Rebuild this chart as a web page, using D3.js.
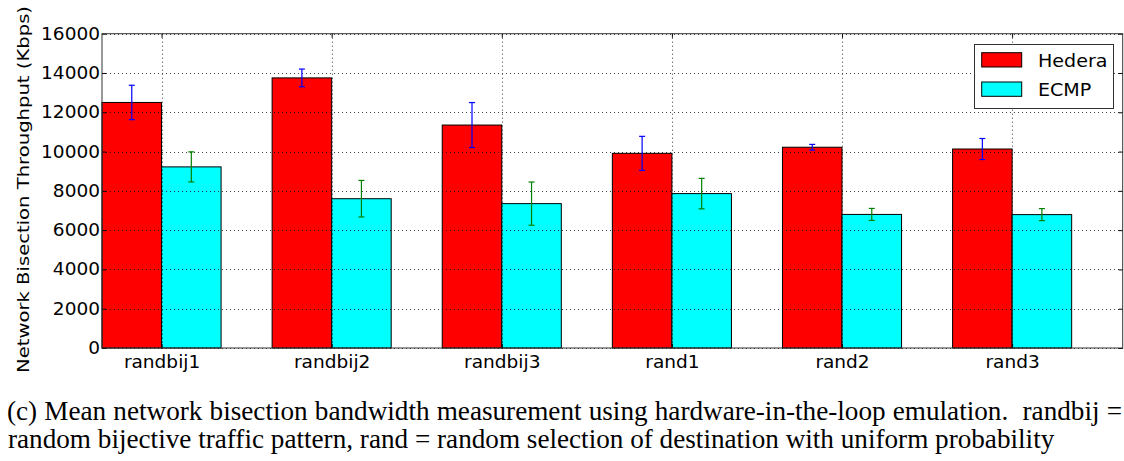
<!DOCTYPE html>
<html>
<head>
<meta charset="utf-8">
<script src="https://cdn.jsdelivr.net/npm/d3@7"></script>
<style>
  html, body { margin: 0; padding: 0; background: #fff; }
  svg { display: block; }
  text { font-family: "DejaVu Sans", sans-serif; fill: #000; }
</style>
</head>
<body>
<svg id="chart" width="1124" height="461"></svg>
<script>
const categories = ["randbij1", "randbij2", "randbij3", "rand1", "rand2", "rand3"];
const hedera    = [12500, 13750, 11350, 9910, 10220, 10130];
const hederaErr = [875, 450, 1145, 865, 145, 535];
const ecmp      = [9220, 7600, 7350, 7860, 6800, 6790];
const ecmpErr   = [765, 930, 1100, 775, 305, 305];
const yTicks    = [0, 2000, 4000, 6000, 8000, 10000, 12000, 14000, 16000];
const seriesNames = ["Hedera", "ECMP"];
const captionLines = [
  "(c) Mean network bisection bandwidth measurement using hardware-in-the-loop emulation.  randbij =",
  "random bijective traffic pattern, rand = random selection of destination with uniform probability"
];

const svg = d3.select("#chart");
const L = 102, R = 1122.7, T = 33.7, B = 348;
const barW = 0.35;
const x = d3.scaleLinear().domain([0, 6]).range([L, R]);
const y = d3.scaleLinear().domain([0, 16000]).range([B, T]);
const STRETCH = 1.09;
const SERIF = "'Liberation Serif', 'Times New Roman', Times, serif";

function stretch(sel, k) {
  sel.each(function () {
    const len = this.getComputedTextLength();
    this.setAttribute("textLength", len * k);
    this.setAttribute("lengthAdjust", "spacingAndGlyphs");
  });
}

const series = [
  { name: seriesNames[0], vals: hedera, errs: hederaErr, fill: "#ff0000", errColor: "#0000ff", off: 0 },
  { name: seriesNames[1], vals: ecmp, errs: ecmpErr, fill: "#00ffff", errColor: "#008000", off: barW }
];

// bars
series.forEach(s => {
  svg.append("g").selectAll("rect").data(s.vals).join("rect")
    .attr("x", (d, i) => x(i + s.off))
    .attr("width", (d, i) => x(i + s.off + barW) - x(i + s.off))
    .attr("y", d => y(d))
    .attr("height", d => y(0) - y(d))
    .attr("fill", s.fill)
    .attr("stroke", "#000")
    .attr("stroke-width", 1);
});

// grid (drawn over bars)
const grid = svg.append("g").attr("stroke", "#000").attr("stroke-width", 1)
  .attr("stroke-dasharray", "1,3").attr("opacity", 0.75);
grid.selectAll("line.h").data(yTicks).join("line").attr("class", "h")
  .attr("x1", L).attr("x2", R).attr("y1", d => Math.round(y(d)) + 0.5).attr("y2", d => Math.round(y(d)) + 0.5);
grid.selectAll("line.v").data(categories).join("line").attr("class", "v")
  .attr("y1", T).attr("y2", B)
  .attr("x1", (d, i) => Math.round(x(i + barW)) + 0.5).attr("x2", (d, i) => Math.round(x(i + barW)) + 0.5);

// error bars
series.forEach(s => {
  const g = svg.append("g").attr("stroke", s.errColor).attr("stroke-width", 1.2);
  s.vals.forEach((v, i) => {
    const cx = x(i + s.off + barW / 2);
    const y1 = y(v + s.errs[i]), y2 = y(v - s.errs[i]);
    g.append("line").attr("x1", cx).attr("x2", cx).attr("y1", y1).attr("y2", y2);
    g.append("line").attr("x1", cx - 3).attr("x2", cx + 3).attr("y1", y1).attr("y2", y1);
    g.append("line").attr("x1", cx - 3).attr("x2", cx + 3).attr("y1", y2).attr("y2", y2);
  });
});

// axes
const yAxis = svg.append("g").attr("transform", `translate(${L},0)`)
  .call(d3.axisLeft(y).tickValues(yTicks).tickSize(-4).tickPadding(2).tickFormat(d3.format("d")));
const yAxisR = svg.append("g").attr("transform", `translate(${R},0)`)
  .call(d3.axisRight(y).tickValues(yTicks).tickSize(-4).tickFormat(""));
const xTickPos = categories.map((c, i) => i + barW);
const xAxis = svg.append("g").attr("transform", `translate(0,${B})`)
  .call(d3.axisBottom(x).tickValues(xTickPos).tickSize(-4).tickPadding(7.5)
    .tickFormat((d, i) => categories[i]));
const xAxisT = svg.append("g").attr("transform", `translate(0,${T})`)
  .call(d3.axisTop(x).tickValues(xTickPos).tickSize(-4).tickFormat(""));
[yAxis, yAxisR, xAxis, xAxisT].forEach(a => {
  a.select(".domain").remove();
  a.selectAll(".tick line").attr("stroke", "#000");
  a.selectAll("text").attr("font-size", 17).attr("font-family", "DejaVu Sans");
});
stretch(yAxis.selectAll("text"), STRETCH);
stretch(xAxis.selectAll("text"), STRETCH);

// frame
svg.append("rect").attr("x", L).attr("y", T).attr("width", R - L).attr("height", B - T)
  .attr("fill", "none").attr("stroke", "#333").attr("stroke-width", 1);

// y title
svg.append("text")
  .attr("transform", `translate(29,${(6 + 373) / 2}) rotate(-90)`)
  .attr("text-anchor", "middle")
  .attr("font-size", 16.5)
  .attr("textLength", 367).attr("lengthAdjust", "spacingAndGlyphs")
  .text("Network Bisection Throughput (Kbps)");

// legend
const lg = svg.append("g");
lg.append("rect").attr("x", 974.5).attr("y", 44.5).attr("width", 139).attr("height", 64)
  .attr("fill", "#fff").attr("stroke", "#333").attr("stroke-width", 1);
series.forEach((s, k) => {
  const yy = 52.7 + k * 29.3;
  lg.append("rect").attr("x", 981.7).attr("y", yy).attr("width", 40).attr("height", 14.3)
    .attr("fill", s.fill).attr("stroke", "#000").attr("stroke-width", 1);
  const t = lg.append("text").attr("x", 1038).attr("y", yy + 14)
    .attr("font-size", 17.5).text(s.name);
  stretch(t, STRETCH);
});

// caption: font size fitted so that line 2 spans its width naturally
const cap = svg.append("g");
const c2 = cap.append("text").attr("x", 8).attr("y", 448)
  .style("font-family", SERIF).style("white-space", "pre")
  .attr("font-size", 24).text(captionLines[1]);
const fs = 24 * 1047 / c2.node().getComputedTextLength();
c2.attr("font-size", fs);
const c1 = cap.append("text").attr("x", 7).attr("y", 420)
  .style("font-family", SERIF).style("white-space", "pre")
  .attr("font-size", fs).text(captionLines[0]);
const nat1 = c1.node().getComputedTextLength();
const nSpaces = (captionLines[0].match(/ /g) || []).length;
const extra = (1122 - 7 - nat1) / nSpaces;
if (extra > 0) c1.style("word-spacing", extra + "px");
else c1.attr("textLength", 1115).attr("lengthAdjust", "spacingAndGlyphs");
</script>
</body>
</html>
